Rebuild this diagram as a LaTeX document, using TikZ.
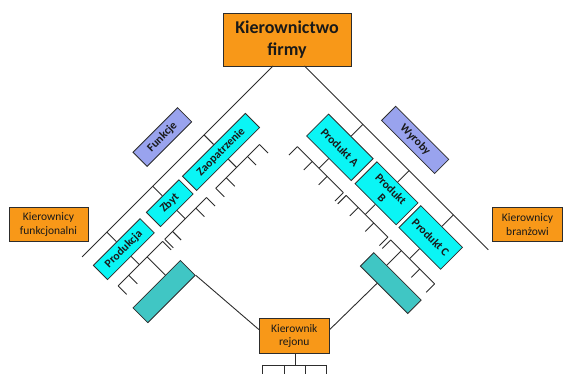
\documentclass[tikz,border=0pt]{standalone}
\usepackage{fontspec}
\setmainfont{Carlito}
\definecolor{orgC}{RGB}{248,152,24}
\definecolor{cyanC}{RGB}{10,245,245}
\definecolor{tealC}{RGB}{64,198,196}
\definecolor{periC}{RGB}{153,163,238}
\definecolor{lineC}{RGB}{45,45,45}
\begin{document}
\begin{tikzpicture}[x=1pt,y=1pt,
  line/.style={draw=lineC, line width=0.9pt},
  box/.style={draw=lineC, line width=0.8pt, inner sep=0pt, align=center, text=black!90},
  orangebox/.style={box, fill=orgC, font=\fontsize{11.5}{13.5}\selectfont},
  cyanbox/.style={box, fill=cyanC, font=\bfseries\fontsize{11.6}{12.5}\selectfont},
  peribox/.style={box, fill=periC, font=\bfseries\fontsize{11.6}{12.5}\selectfont},
  tealbox/.style={box, fill=tealC}]
\useasboundingbox (0,0) rectangle (563,-374);

% top
\node[orangebox, minimum width=128, minimum height=53,
      font=\bfseries\fontsize{18}{21.5}\selectfont] (top) at (287,-39.5) {Kierownictwo\\firmy};
% side labels
\node[orangebox, minimum width=79, minimum height=34.5] (kf) at (48.5,-224.5) {Kierownicy\\funkcjonalni};
\node[orangebox, minimum width=70, minimum height=34.5] (kb) at (527.5,-224.5) {Kierownicy\\branżowi};
% rejon
\node[orangebox, minimum width=70, minimum height=35] (rej) at (294.3,-335.8) {Kierownik\\rejonu};
\coordinate (rb) at (295,-365);
\draw[line] (rej.south -| rb) -- (rb);
\draw[line] (262.7,-365) -- (326.7,-365);
\foreach \x in {262.7,284,305,326.7} \draw[line] (\x,-365) -- (\x,-376);

% ---------- left wing ----------
\begin{scope}[shift={(273pt,-66pt)}, x={(-0.70711pt,-0.70711pt)}, y={(0.70711pt,-0.70711pt)}]
  \coordinate (L0) at (0,0);
  \coordinate (L1) at (270,0);
  \draw[line] (L0) -- (L1);
  \node[peribox, rotate=45, minimum width=63, minimum height=20] (funk) at (128.5,-28) {Funkcje};
  \node[cyanbox, rotate=45, minimum width=89, minimum height=20] (zaop) at (97.5,24) {Zaopatrzenie};
  \node[cyanbox, rotate=45, minimum width=46, minimum height=20] (zbyt) at (170,24) {Zbyt};
  \node[cyanbox, rotate=45, minimum width=66, minimum height=20] (prod) at (235,24) {Produkcja};
  \node[tealbox, rotate=45, minimum width=67, minimum height=21] (tealL) at (236.5,82.5) {};
  % stubs to main line
  \draw[line] (zaop.north) -- (97.5,0);
  \draw[line] (zbyt.north) -- (170,0);
  \draw[line] (prod.north) -- (235,0);
  % combs
  \draw[line] (zaop.south) -- (97.5,46);
  \draw[line] (65,46) -- (127,46);
  \foreach \s in {65,82,112,127} \draw[line] (\s,46) -- (\s,58);
  \draw[line] (zbyt.south) -- (170,46);
  \draw[line] (140,46) -- (199,46);
  \foreach \s in {140,155,188,199} \draw[line] (\s,46) -- (\s,58);
  \draw[line] (prod.south) -- (235,46);
  \draw[line] (202,46) -- (265,46);
  \foreach \s in {202,250,265} \draw[line] (\s,46) -- (\s,58);
  \draw[line] (224,46) -- (224,72);
\end{scope}

% ---------- right wing ----------
\begin{scope}[shift={(304.5pt,-66pt)}, x={(0.70711pt,-0.70711pt)}, y={(-0.70711pt,-0.70711pt)}]
  \coordinate (R0) at (0,0);
  \coordinate (R1) at (260,0);
  \draw[line] (R0) -- (R1);
  \node[peribox, rotate=-45, minimum width=75, minimum height=20] (wyr) at (130.5,-26) {Wyroby};
  \node[cyanbox, rotate=-45, minimum width=63, minimum height=31] (pa) at (82.5,32.5) {Produkt A};
  \node[cyanbox, rotate=-45, minimum width=58, minimum height=31] (pb) at (148,32) {Produkt\\B};
  \node[cyanbox, rotate=-45, minimum width=59, minimum height=31] (pc) at (210.5,32) {Produkt C};
  \node[tealbox, rotate=-45, minimum width=67, minimum height=19] (tealR) at (214.5,92.5) {};
  \coordinate (tR) at (205,102);
  % stubs to main line
  \draw[line] (pa.north) -- (82.5,0);
  \draw[line] (pb.north) -- (148,0);
  \draw[line] (pc.north) -- (210.5,0);
  % combs
  \draw[line] (pa.south) -- (82.5,62);
  \draw[line] (52,62) -- (117,62);
  \foreach \s in {52,73,94,117} \draw[line] (\s,62) -- (\s,74);
  \draw[line] (pb.south) -- (148,62);
  \draw[line] (121,62) -- (180,62);
  \foreach \s in {121,138,160,180} \draw[line] (\s,62) -- (\s,74);
  \draw[line] (pc.south) -- (210.5,62);
  \draw[line] (184,62) -- (246,62);
  \foreach \s in {184,225,246} \draw[line] (\s,62) -- (\s,74);
  \draw[line] (199,62) -- (199,83);
\end{scope}

% to rejon
\draw[line] (tealL.south east) -- (rej.170);
\draw[line] (tR) -- (rej.10);
\end{tikzpicture}
\end{document}
